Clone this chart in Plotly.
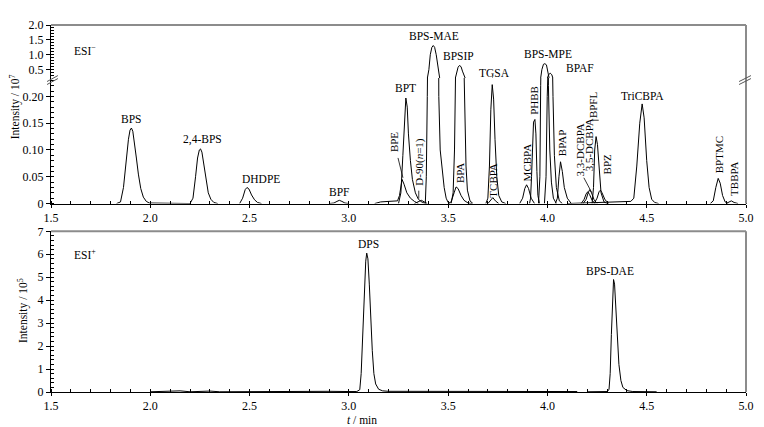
import plotly.graph_objects as go

# ---------------- data ----------------
# ESI- chromatograms (intensity / 1e7)
t_BPS = [1.83, 1.85, 1.865, 1.878, 1.89, 1.898, 1.905, 1.912, 1.92, 1.93, 1.94, 1.952, 1.965, 1.98, 1.995, 2.2]
i_BPS = [0, 0.003, 0.03, 0.08, 0.12, 0.137, 0.141, 0.135, 0.115, 0.085, 0.055, 0.028, 0.012, 0.004, 0.001, 0]

t_24BPS = [2.2, 2.215, 2.228, 2.238, 2.247, 2.253, 2.26, 2.27, 2.28, 2.292, 2.305, 2.32, 2.34]
i_24BPS = [0, 0.01, 0.05, 0.085, 0.1, 0.102, 0.096, 0.07, 0.042, 0.02, 0.008, 0.002, 0]

t_DHDPE = [2.45, 2.465, 2.478, 2.487, 2.497, 2.51, 2.525, 2.54, 2.56]
i_DHDPE = [0, 0.01, 0.026, 0.030, 0.027, 0.016, 0.007, 0.002, 0]

t_BPF = [2.9, 2.925, 2.94, 2.952, 2.965, 2.98, 3.0]
i_BPF = [0, 0.001, 0.004, 0.006, 0.004, 0.001, 0]

t_BPE = [3.13, 3.16, 3.2, 3.245, 3.255, 3.262, 3.268, 3.278, 3.292, 3.31, 3.33, 3.35]
i_BPE = [0, 0.003, 0.004, 0.005, 0.015, 0.035, 0.045, 0.036, 0.02, 0.01, 0.004, 0]

t_BPT = [3.25, 3.262, 3.272, 3.28, 3.287, 3.294, 3.30, 3.31, 3.32, 3.335, 3.35, 3.37, 3.39]
i_BPT = [0, 0.02, 0.09, 0.16, 0.197, 0.18, 0.13, 0.08, 0.045, 0.02, 0.008, 0.002, 0]

t_D90 = [3.33, 3.35, 3.365, 3.38, 3.395]
i_D90 = [0, 0.003, 0.006, 0.003, 0]

t_BPSMAE = [3.385, 3.39, 3.395, 3.403, 3.41, 3.418, 3.425, 3.432, 3.44, 3.45, 3.453, 3.46, 3.47, 3.48, 3.49, 3.5, 3.51]
i_BPSMAE = [0, 0.05, 0.2, 0.5, 1.0, 1.25, 1.31, 1.25, 1.0, 0.5, 0.2, 0.1, 0.065, 0.03, 0.01, 0.002, 0]

t_BPA = [3.5, 3.515, 3.53, 3.54, 3.55, 3.565, 3.58, 3.6, 3.62]
i_BPA = [0, 0.003, 0.02, 0.031, 0.028, 0.015, 0.006, 0.001, 0]

t_BPSIP = [3.515, 3.525, 3.532, 3.537, 3.543, 3.55, 3.557, 3.565, 3.572, 3.58, 3.585, 3.59, 3.597, 3.61, 3.625]
i_BPSIP = [0, 0.02, 0.1, 0.22, 0.4, 0.58, 0.64, 0.6, 0.45, 0.25, 0.15, 0.07, 0.025, 0.005, 0]

t_TGSA = [3.69, 3.70, 3.708, 3.715, 3.722, 3.729, 3.736, 3.745, 3.755, 3.77, 3.79]
i_TGSA = [0, 0.01, 0.07, 0.175, 0.222, 0.195, 0.12, 0.05, 0.015, 0.003, 0]

t_TCBPA = [3.7, 3.712, 3.725, 3.738, 3.755]
i_TCBPA = [0, 0.006, 0.011, 0.005, 0]

t_MCBPA = [3.86, 3.875, 3.886, 3.895, 3.905, 3.918, 3.935]
i_MCBPA = [0, 0.01, 0.028, 0.035, 0.028, 0.01, 0]

t_PHBB = [3.91, 3.915, 3.92, 3.925, 3.93, 3.937, 3.942, 3.947, 3.952, 3.96]
i_PHBB = [0, 0.01, 0.05, 0.12, 0.152, 0.157, 0.13, 0.06, 0.015, 0]

t_BPSMPE = [3.955, 3.962, 3.966, 3.972, 3.98, 3.987, 3.995, 4.0, 4.005, 4.012, 4.02, 4.03, 4.045]
i_BPSMPE = [0, 0.05, 0.22, 0.5, 0.68, 0.70, 0.66, 0.45, 0.22, 0.1, 0.04, 0.01, 0]

t_BPAF = [3.985, 3.993, 3.999, 4.006, 4.014, 4.022, 4.028, 4.035, 4.045, 4.06, 4.075]
i_BPAF = [0, 0.05, 0.2, 0.33, 0.38, 0.33, 0.2, 0.09, 0.03, 0.005, 0]

t_BPAP = [4.04, 4.05, 4.058, 4.066, 4.075, 4.085, 4.1, 4.12]
i_BPAP = [0, 0.01, 0.05, 0.078, 0.06, 0.03, 0.01, 0]

t_33DCBPA = [4.17, 4.185, 4.195, 4.203, 4.212, 4.225, 4.24]
i_33DCBPA = [0, 0.008, 0.018, 0.022, 0.017, 0.006, 0]

t_35DCBPA = [4.18, 4.195, 4.205, 4.213, 4.222, 4.235, 4.25]
i_35DCBPA = [0, 0.008, 0.02, 0.026, 0.02, 0.007, 0]

t_BPFL = [4.225, 4.232, 4.238, 4.245, 4.252, 4.26, 4.27, 4.285, 4.3]
i_BPFL = [0, 0.03, 0.1, 0.125, 0.11, 0.06, 0.02, 0.003, 0]

t_BPZ = [4.235, 4.25, 4.26, 4.267, 4.275, 4.29, 4.31]
i_BPZ = [0, 0.01, 0.022, 0.025, 0.02, 0.007, 0]

t_TriCBPA = [4.1, 4.3, 4.42, 4.435, 4.45, 4.465, 4.477, 4.487, 4.5, 4.512, 4.525, 4.54, 4.56]
i_TriCBPA = [0, 0.002, 0.004, 0.01, 0.07, 0.15, 0.186, 0.16, 0.08, 0.03, 0.008, 0.002, 0]

t_BPTMC = [4.82, 4.835, 4.848, 4.86, 4.87, 4.882, 4.895, 4.91]
i_BPTMC = [0, 0.005, 0.03, 0.047, 0.038, 0.015, 0.003, 0]

t_TBBPA = [4.9, 4.915, 4.926, 4.94, 4.96]
i_TBBPA = [0, 0.003, 0.005, 0.002, 0]

# ESI+ chromatograms (intensity / 1e5)
t_base = [2.0, 2.1, 2.15, 2.2, 2.3, 2.35, 2.5, 2.7, 2.72, 2.85, 2.9, 3.0, 3.04]
i_base = [0.01, 0.02, 0.05, 0.01, 0.04, 0.01, 0.02, 0.01, 0.04, 0.05, 0.03, 0.02, 0.02]

t_DPS = [3.04, 3.055, 3.062, 3.07, 3.078, 3.085, 3.09, 3.096, 3.103, 3.11, 3.118, 3.126, 3.135, 3.15, 3.17, 3.2, 3.5, 4.15]
i_DPS = [0.02, 0.1, 0.8, 2.6, 4.6, 5.7, 6.05, 5.8, 4.7, 3.2, 1.8, 0.8, 0.35, 0.12, 0.05, 0.03, 0.02, 0.02]

t_BPSDAE = [4.2, 4.3, 4.31, 4.316, 4.322, 4.328, 4.333, 4.338, 4.345, 4.352, 4.36, 4.37, 4.38, 4.4, 4.43, 4.55]
i_BPSDAE = [0.01, 0.02, 0.1, 0.8, 2.5, 4.2, 4.9, 4.7, 3.6, 2.3, 1.2, 0.5, 0.2, 0.06, 0.02, 0.01]

x_ticks = [1.5, 2.0, 2.5, 3.0, 3.5, 4.0, 4.5, 5.0]
x_ticklabels = ["1.5", "2.0", "2.5", "3.0", "3.5", "4.0", "4.5", "5.0"]
ylow_ticks = [0, 0.05, 0.10, 0.15, 0.20]
ylow_ticklabels = ["0", "0.05", "0.10", "0.15", "0.20"]
yhigh_ticks = [0.5, 1.0, 1.5, 2.0]
yhigh_ticklabels = ["0.5", "1.0", "1.5", "2.0"]
ypos_ticks = [0, 1, 2, 3, 4, 5, 6, 7]
ypos_ticklabels = ["0", "1", "2", "3", "4", "5", "6", "7"]

neg_series = [
    (t_BPS, i_BPS), (t_24BPS, i_24BPS), (t_DHDPE, i_DHDPE), (t_BPF, i_BPF),
    (t_BPE, i_BPE), (t_BPT, i_BPT), (t_D90, i_D90), (t_BPSMAE, i_BPSMAE),
    (t_BPA, i_BPA), (t_BPSIP, i_BPSIP), (t_TGSA, i_TGSA), (t_TCBPA, i_TCBPA),
    (t_MCBPA, i_MCBPA), (t_PHBB, i_PHBB), (t_BPSMPE, i_BPSMPE), (t_BPAF, i_BPAF),
    (t_BPAP, i_BPAP), (t_33DCBPA, i_33DCBPA), (t_35DCBPA, i_35DCBPA),
    (t_BPFL, i_BPFL), (t_BPZ, i_BPZ), (t_TriCBPA, i_TriCBPA),
    (t_BPTMC, i_BPTMC), (t_TBBPA, i_TBBPA),
]
pos_series = [(t_base, i_base), (t_DPS, i_DPS), (t_BPSDAE, i_BPSDAE)]

# ---------------- layout geometry (page pixels; page has 8px body margin) ----------------
OFF = 8
W, H = 764 - OFF, 427 - OFF
L, R, T, B = 51, 754, 22, 392          # plot area in page pixels
PW, PH = R - L, B - T


def px(x):
    return (x - L) / PW


def py(y):
    return (B - y) / PH


FONT = "Liberation Serif"
LINE = dict(color="black", width=1)

fig = go.Figure()
for t, v in neg_series:
    for ya in ("y2", "y3"):
        fig.add_trace(go.Scatter(x=t, y=v, xaxis="x", yaxis=ya, mode="lines",
                                 line=LINE, showlegend=False, hoverinfo="skip"))
for t, v in pos_series:
    fig.add_trace(go.Scatter(x=t, y=v, xaxis="x2", yaxis="y", mode="lines",
                             line=LINE, showlegend=False, hoverinfo="skip"))

tickfont = dict(family=FONT, size=12, color="black")
xcommon = dict(range=[1.5, 5.0], tickvals=x_ticks, ticktext=x_ticklabels,
               showline=True, linecolor="black", linewidth=1, ticks="outside",
               ticklen=3, tickcolor="black", showgrid=False, zeroline=False,
               tickfont=tickfont,
               minor=dict(dtick=0.1, tick0=1.5, ticks="inside", ticklen=3, tickcolor="black"))
ycommon = dict(showline=True, linecolor="black", linewidth=1, ticks="outside",
               ticklen=4, tickcolor="black", showgrid=False, zeroline=False,
               tickfont=tickfont)

dom_bot = [0, py(230)]
dom_low = [py(202), py(75.5)]
dom_high = [py(75.5), 1]

fig.update_layout(
    width=W, height=H,
    margin=dict(l=L - OFF, r=W - (R - OFF), t=T - OFF, b=H - (B - OFF), pad=0),
    paper_bgcolor="white", plot_bgcolor="white",
    font=dict(family=FONT, size=12, color="black"),
    xaxis=dict(domain=[0, 1], anchor="y2", **xcommon),
    xaxis2=dict(domain=[0, 1], anchor="y", **xcommon),
    yaxis=dict(domain=dom_bot, anchor="x2", range=[0, 7], tickvals=ypos_ticks,
               ticktext=ypos_ticklabels,
               minor=dict(dtick=0.2, ticks="inside", ticklen=3, tickcolor="black"),
               **ycommon),
    yaxis2=dict(domain=dom_low, anchor="x", range=[0, (202 - 75.5) / 540],
                tickvals=ylow_ticks, ticktext=ylow_ticklabels,
                minor=dict(dtick=0.01, tick0=0, ticks="inside", ticklen=3, tickcolor="black"),
                **ycommon),
    yaxis3=dict(domain=dom_high, anchor="x", range=[2.0 - (75.5 - 22) / 30, 2.0],
                tickvals=yhigh_ticks, ticktext=yhigh_ticklabels,
                minor=dict(dtick=0.1, tick0=0, ticks="inside", ticklen=3, tickcolor="black"),
                **ycommon),
)

# frame (top/right grey lines)
GREY = dict(color="#8c8c8c", width=2)
shapes = [
    dict(type="line", xref="paper", yref="paper", x0=0, x1=1, y0=1, y1=1, line=GREY),
    dict(type="line", xref="paper", yref="paper", x0=1, x1=1, y0=dom_low[0], y1=1, line=GREY),
    dict(type="line", xref="paper", yref="paper", x0=0, x1=1, y0=dom_bot[1], y1=dom_bot[1], line=GREY),
    dict(type="line", xref="paper", yref="paper", x0=1, x1=1, y0=0, y1=dom_bot[1], line=GREY),
]
# break marks
for (x0, y0, x1, y1) in [(47, 79, 58, 73), (47, 82, 58, 76), (747, 79, 759, 73), (747, 82, 759, 76)]:
    shapes.append(dict(type="line", xref="paper", yref="paper", x0=px(x0), y0=py(y0),
                       x1=px(x1), y1=py(y1), line=dict(color="#555", width=1)))
# leader lines
for (x0, y0, x1, y1) in [(402, 156, 407, 176), (423, 189, 423, 197), (590, 176, 598, 191),
                         (599, 118, 605, 118)]:
    shapes.append(dict(type="line", xref="paper", yref="paper", x0=px(x0), y0=py(y0),
                       x1=px(x1), y1=py(y1), line=dict(color="black", width=0.8)))
fig.update_layout(shapes=shapes)

ann = []


def label(text, x, y, angle=0, size=11.5):
    ann.append(dict(text=text, x=px(x), y=py(y), xref="paper", yref="paper",
                    showarrow=False, textangle=angle, xanchor="center", yanchor="middle",
                    font=dict(family=FONT, size=size, color="black")))


# horizontal peak labels
label("BPS", 132, 117)
label("2,4-BPS", 204, 137)
label("DHDPE", 263, 177)
label("BPF", 342, 190)
label("BPT", 410, 86)
label("BPS-MAE", 438, 33)
label("BPSIP", 463, 53)
label("TGSA", 500, 70)
label("BPS-MPE", 554, 51)
label("BPAF", 586, 65)
label("TriCBPA", 649, 94)
# rotated labels
label("BPE", 398, 140, -90, 11)
label("D-90(<i>n</i>=1)", 424, 160, -90, 11)
label("BPA", 464, 171, -90, 11)
label("TCBPA", 498, 178, -90, 11)
label("MCBPA", 532, 161, -90, 11)
label("PHBB", 540, 98, -90, 11)
label("BPAP", 568, 141, -90, 11)
label("3,3-DCBPA", 586.5, 148, -90, 11)
label("3,5-DCBPA", 595.5, 143, -90, 11)
label("BPFL", 600, 102, -90, 11)
label("BPZ", 613, 163, -90, 11)
label("BPTMC", 727, 153, -90, 11)
label("TBBPA", 742, 177, -90, 11)
# ESI
label("ESI<sup>−</sup>", 85, 47)
label("ESI<sup>+</sup>", 85, 253)
label("DPS", 372, 243)
label("BPS-DAE", 616, 270)
# axis titles
label("Intensity / 10<sup>7</sup>", 14.5, 104, -90)
label("Intensity / 10<sup>5</sup>", 23, 310, -90)
label("<i>t</i> / min", 366, 420.5)

fig.update_layout(annotations=ann)
fig.write_html("out.html")
